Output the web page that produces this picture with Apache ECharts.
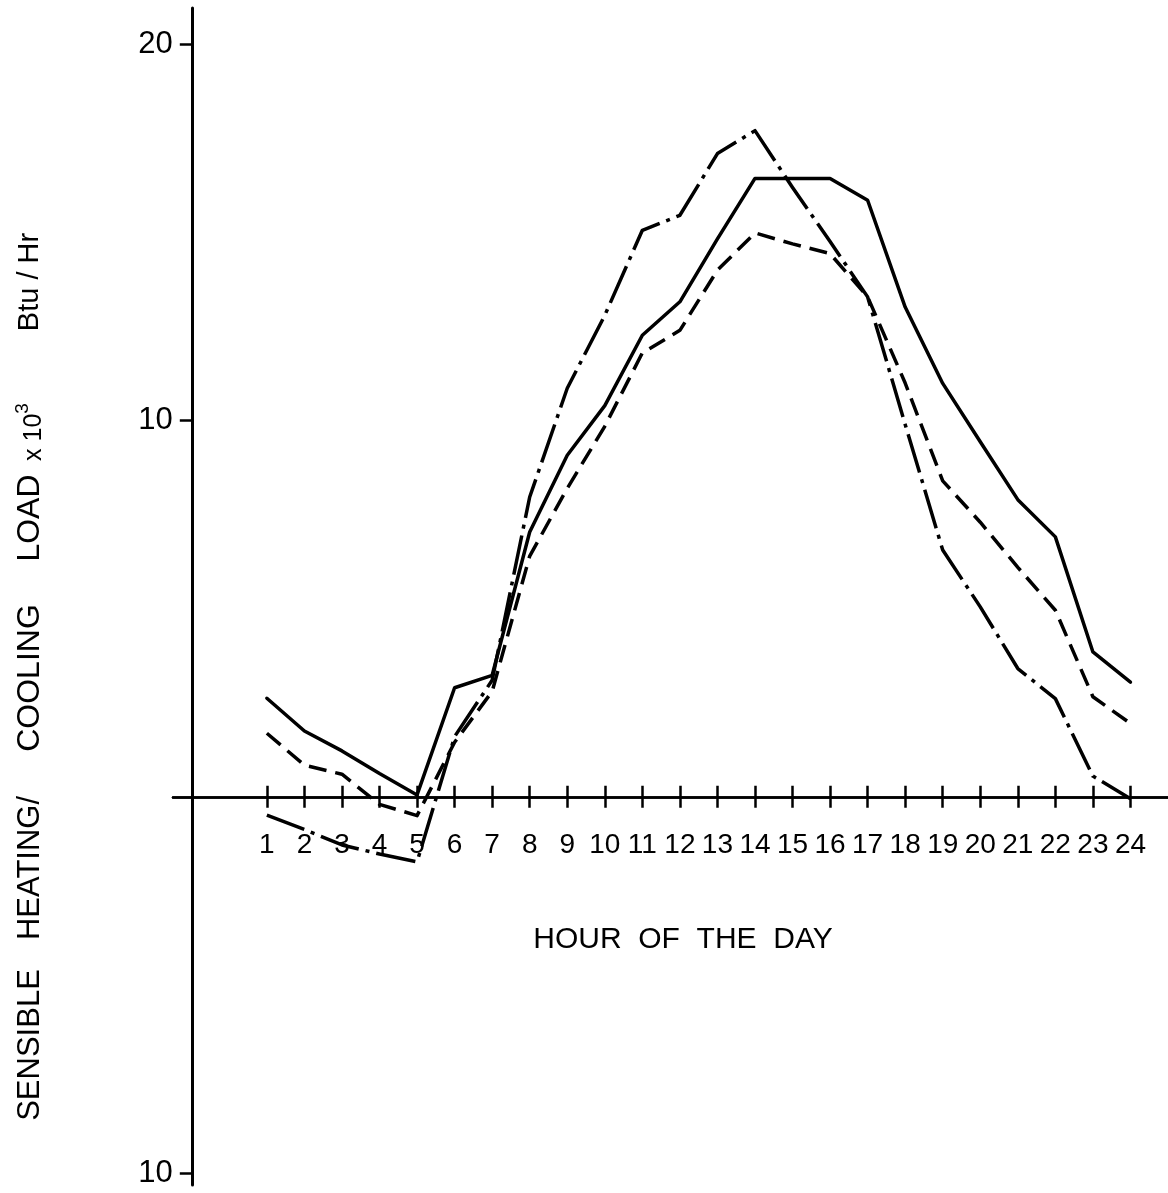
<!DOCTYPE html>
<html>
<head>
<meta charset="utf-8">
<script src="https://cdn.jsdelivr.net/npm/echarts@6/dist/echarts.min.js"></script>
<style>
  html, body { margin: 0; padding: 0; background: #fff; }
  #chart { width: 1168px; height: 1193px; }
</style>
</head>
<body>
<div id="chart"></div>
<script>
// ---- data ----
const hours = [1,2,3,4,5,6,7,8,9,10,11,12,13,14,15,16,17,18,19,20,21,22,23,24];
const hourLabels = ['1','2','3','4','5','6','7','8','9','10','11','12','13','14','15','16','17','18','19','20','21','22','23','24'];
const solidLoad   = [2.62, 1.75, 1.22, 0.62, 0.05, 2.90, 3.23, 7.04, 9.08, 10.40, 12.27, 13.16, 14.83, 16.44, 16.44, 16.44, 15.86, 13.02, 10.99, 9.44, 7.90, 6.91, 3.85, 3.05];
const dashedLoad  = [1.69, 0.84, 0.60, -0.20, -0.50, 1.45, 2.80, 6.40, 8.20, 9.85, 11.80, 12.40, 14.00, 14.99, 14.70, 14.44, 13.29, 11.00, 8.40, 7.30, 6.10, 4.96, 2.66, 1.95];
const dashDotLoad = [-0.49, -0.87, -1.28, -1.52, -1.73, 1.60, 3.10, 7.97, 10.86, 12.80, 15.06, 15.46, 17.10, 17.71, 16.20, 14.76, 13.29, 9.90, 6.56, 5.05, 3.41, 2.61, 0.55, -0.05];
const yTickValues = [-10, 10, 20];
const xTitle = 'HOUR  OF  THE  DAY';

const FONT = 'Liberation Sans, Arial, sans-serif';
const chart = echarts.init(document.getElementById('chart'), null, { renderer: 'canvas' });

function pairs(vals) { return hours.map((h, i) => [h, vals[i]]); }

const lineBase = { type: 'line', symbol: 'none', xAxisIndex: 0, yAxisIndex: 0, animation: false, silent: true };

const xAxisCommon = {
  type: 'value', min: -1.5, max: 25,
  splitLine: { show: false },
  axisLabel: { show: false },
  axisLine: { show: true, onZero: true, onZeroAxisIndex: 0, lineStyle: { color: '#000', width: 2.5 } },
  axisTick: { show: true, customValues: hours, length: 11, lineStyle: { color: '#000', width: 2.5 } }
};

function rotText(text, y, size) {
  return { type: 'text', x: 30, y: y, rotation: Math.PI / 2, silent: true,
    style: { text: text, font: size + 'px ' + FONT, fill: '#000', align: 'center', verticalAlign: 'middle' } };
}

const option = {
  backgroundColor: '#fff',
  animation: false,
  grid: { left: 173, right: 0, top: 8, bottom: 8, outerBoundsMode: 'none', containLabel: false },
  xAxis: [
    Object.assign({}, xAxisCommon, { position: 'bottom' }),
    Object.assign({}, xAxisCommon, { position: 'top' })
  ],
  yAxis: {
    type: 'value', min: -10.32, max: 20.97, offset: -18.8,
    splitLine: { show: false },
    axisLine: { show: true, onZero: false, lineStyle: { color: '#000', width: 3 } },
    axisTick: { show: true, customValues: yTickValues, length: 12, lineStyle: { color: '#000', width: 2.5 } },
    axisLabel: { show: true, customValues: yTickValues, margin: 19, fontSize: 31, color: '#000', fontFamily: FONT,
                 formatter: v => String(Math.abs(v)) }
  },
  series: [
    Object.assign({}, lineBase, { name: 'solid', data: pairs(solidLoad),
      lineStyle: { color: '#000', width: 3.5, type: 'solid', join: 'round', cap: 'round' } }),
    Object.assign({}, lineBase, { name: 'dashed', data: pairs(dashedLoad),
      lineStyle: { color: '#000', width: 3.5, type: [18, 9], join: 'round' } }),
    Object.assign({}, lineBase, { name: 'dashdot', data: pairs(dashDotLoad),
      lineStyle: { color: '#000', width: 3.5, type: [40, 7, 4, 7], join: 'round' } }),
    { type: 'scatter', name: 'hourLabels', silent: true, animation: false, symbolSize: 0,
      itemStyle: { opacity: 1, color: '#000' },
      data: hours.map(h => [h, 0]),
      label: { show: true, position: 'bottom', distance: 34, fontSize: 28, color: '#000', opacity: 1,
               fontFamily: FONT, formatter: p => hourLabels[p.dataIndex] } }
  ],
  graphic: [
    { type: 'text', x: 683, y: 940, silent: true,
      style: { text: xTitle, font: '30px ' + FONT, fill: '#000', align: 'center', verticalAlign: 'middle' } },
    rotText('SENSIBLE', 1045, 31),
    rotText('HEATING/', 868, 31),
    rotText('COOLING', 678, 32),
    rotText('LOAD', 518, 32),
    { type: 'text', x: 30, y: 432, rotation: Math.PI / 2, silent: true,
      style: { text: '{b|x 10}{s|3}', fill: '#000', align: 'center', verticalAlign: 'middle',
        rich: {
          b: { fontSize: 25, fontFamily: FONT, fill: '#000', lineHeight: 34, verticalAlign: 'bottom' },
          s: { fontSize: 19, fontFamily: FONT, fill: '#000', lineHeight: 34, verticalAlign: 'top' }
        } } },
    rotText('Btu / Hr', 282, 29)
  ]
};
chart.setOption(option);
</script>
</body>
</html>
